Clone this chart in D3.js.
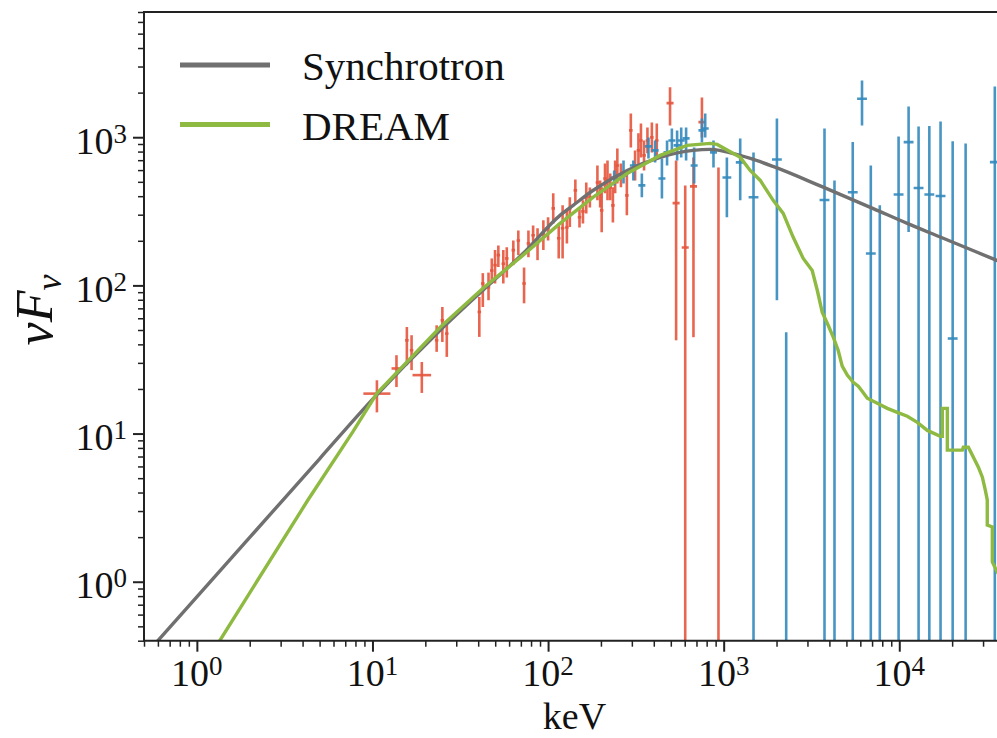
<!DOCTYPE html>
<html>
<head>
<meta charset="utf-8">
<script src="https://cdn.jsdelivr.net/npm/d3@7"></script>
<style>
  body { margin: 0; background: #fff; }
  svg { display: block; font-family: "Liberation Serif", "DejaVu Serif", serif; }
</style>
</head>
<body>
<svg id="chart" width="997" height="738"></svg>
<script>
// Model curves: [keV, nuFnu]
const synchrotron = [
  [0.5, 0.314], [1, 0.79], [2, 1.99], [5, 6.76], [10, 17.0], [24.3, 49.8], [42.6, 92.9],
  [72, 164], [117, 297], [139, 347], [180, 437], [282, 597], [435, 731], [670, 815],
  [838, 828], [1240, 754], [1420, 719], [1910, 635], [3690, 460], [7110, 330],
  [11100, 262], [17100, 212], [36200, 147], [40000, 140]
];

const dream = [
  [1.2, 0.32], [1.35, 0.40], [4.29, 3.56], [7.74, 10.3], [10.6, 18.7], [24.3, 52.2],
  [42.6, 95.7], [72.1, 160], [117, 262], [180, 393], [282, 570], [435, 754], [619, 881],
  [838, 908], [918, 894], [1242, 731], [1416, 597], [1616, 511], [1914, 375], [2183, 306],
  [2489, 211], [2838, 152], [3193, 126], [3412, 92.7], [3640, 65.9], [3936, 53.8],
  [4207, 44.7], [4487, 36.5], [4732, 28.5], [5057, 24.8], [5470, 22.2], [5840, 20.9],
  [6150, 19.3], [6575, 17.3], [7497, 16.0], [8547, 14.8], [9745, 13.9], [11110, 13.1],
  [12670, 11.9], [14450, 10.5], [17140, 9.6], [17580, 9.6], [17580, 14.8], [18780, 14.8],
  [18780, 7.73], [22860, 7.73], [23170, 8.09], [24730, 8.09], [25390, 7.61], [26430, 6.93],
  [28210, 5.93], [29720, 5.08], [30900, 4.15], [31700, 3.56], [31700, 2.41], [33880, 2.34],
  [33880, 1.36], [36150, 1.16], [39170, 1.03]
];

// Data points: [keV, nuFnu, lower, upper, half bin width in dex]
const naiData = [
  [10.6, 18.6, 13.9, 22.9, 0.077], [13.7, 27.5, 20.6, 33.8, 0.028], [15.7, 42.6, 28.9, 52.4, 0.01],
  [16.7, 36.5, 26.8, 46.1, 0.01], [19.1, 24.8, 18.8, 30.4, 0.053], [23.2, 42.6, 35.6, 53.8, 0.01],
  [25.0, 58.2, 41.5, 71.5, 0.01], [26.5, 47.3, 32.9, 55.5, 0.01], [40.6, 66.2, 44.9, 83.5, 0.01],
  [42.5, 103, 71.5, 121, 0.01], [45.8, 97, 79.4, 122, 0.01], [47.8, 126, 103, 152, 0.01],
  [49.9, 137, 103, 173, 0.01], [52.1, 160, 133, 186, 0.01], [55.6, 140, 103, 173, 0.01],
  [58.2, 152, 113, 181, 0.01], [63.4, 173, 137, 201, 0.01], [67.7, 201, 160, 235, 0.01],
  [73.0, 103, 75.7, 132, 0.01], [77.3, 192, 155, 235, 0.01], [82.2, 218, 181, 254, 0.01],
  [87.1, 192, 148, 243, 0.01], [94.0, 224, 173, 275, 0.01], [100, 243, 201, 288, 0.01],
  [107, 331, 262, 418, 0.01], [115, 208, 152, 262, 0.01], [121, 243, 152, 347, 0.01],
  [128, 246, 192, 321, 0.01], [133, 331, 248, 393, 0.01], [143, 438, 358, 519, 0.01],
  [151, 288, 246, 336, 0.01], [158, 316, 262, 375, 0.01], [165, 393, 306, 495, 0.01],
  [173, 393, 336, 458, 0.01], [191, 495, 375, 645, 0.01], [198, 418, 336, 511, 0.01],
  [202, 321, 228, 459, 0.01], [211, 527, 418, 665, 0.01], [218, 511, 375, 697, 0.01],
  [226, 459, 375, 570, 0.01], [234, 347, 266, 459, 0.01], [241, 544, 418, 697, 0.01],
  [248, 645, 488, 839, 0.01], [260, 553, 459, 665, 0.01], [281, 405, 297, 570, 0.01],
  [296, 1112, 853, 1446, 0.01], [313, 645, 511, 815, 0.01], [327, 815, 625, 1062, 0.01],
  [338, 951, 731, 1239, 0.01], [352, 754, 597, 951, 0.01], [368, 951, 778, 1164, 0.01],
  [390, 997, 789, 1259, 0.01], [416, 951, 731, 1239, 0.01], [495, 1699, 1202, 2178, 0.02],
  [536, 359, 42.6, 697, 0.02], [604, 180, 0.05, 473, 0.02], [673, 466, 44.7, 731, 0.02],
  [752, 1265, 997, 1854, 0.02], [934, 0.2, 0.05, 625, 0.02]
];

const bgoData = [
  [238, 535, 473, 597, 0.02], [269, 553, 488, 697, 0.02], [306, 645, 511, 697, 0.02],
  [342, 473, 393, 570, 0.02], [373, 867, 719, 997, 0.02], [407, 815, 676, 951, 0.02],
  [445, 527, 386, 719, 0.02], [476, 790, 645, 951, 0.02], [507, 951, 778, 1146, 0.02],
  [543, 881, 697, 1112, 0.02], [573, 951, 731, 1164, 0.02], [611, 982, 697, 1164, 0.02],
  [679, 645, 488, 853, 0.02], [752, 1112, 923, 1340, 0.02], [785, 1146, 997, 1446, 0.02],
  [875, 790, 625, 951, 0.02], [1043, 535, 288, 731, 0.025], [1242, 676, 375, 982, 0.025],
  [1479, 393, 0.05, 790, 0.028], [2010, 708, 79.4, 1340, 0.028], [2270, 0.2, 0.05, 48.3, 0.028],
  [3751, 377, 0.05, 1146, 0.028], [4276, 0.2, 0.05, 511, 0.028], [5433, 425, 0.05, 927, 0.028],
  [6135, 1820, 1202, 2415, 0.028], [6884, 164, 0.05, 645, 0.028], [7745, 0.2, 0.05, 347, 0.028],
  [9910, 411, 0.05, 1013, 0.028], [11300, 927, 229, 1614, 0.028], [12880, 454, 0.05, 1183, 0.028],
  [14830, 411, 0.05, 1189, 0.028], [17180, 401, 0.05, 1278, 0.028], [20140, 43.8, 0.05, 941, 0.028],
  [23870, 0.2, 0.05, 908, 0.028], [35000, 679, 0.05, 2202, 0.028]
];

const xDomain = [0.5, 40000];
const yDomain = [0.4, 7000];
const legendItems = [['Synchrotron', '#707070'], ['DREAM', '#8EBA42']];

const COLORS = { nai: '#E5553D', bgo: '#348ABD', syn: '#707070', dream: '#8EBA42' };
const plot = { left: 144, right: 1005, top: 12, bottom: 640.7 };

const svg = d3.select('#chart');
const x = d3.scaleLog().domain(xDomain).range([plot.left, plot.right]);
const y = d3.scaleLog().domain(yDomain).range([plot.bottom, plot.top]);

svg.append('defs').append('clipPath').attr('id', 'clip')
  .append('rect').attr('x', plot.left).attr('y', plot.top)
  .attr('width', plot.right - plot.left).attr('height', plot.bottom - plot.top);

const body = svg.append('g').attr('clip-path', 'url(#clip)');

// error bars
function drawErrors(data, color) {
  const g = body.append('g').attr('stroke', color).attr('stroke-width', 2.6).attr('stroke-opacity', 0.9);
  g.selectAll('line.v').data(data).enter().append('line').attr('class', 'v')
    .attr('x1', d => x(d[0])).attr('x2', d => x(d[0]))
    .attr('y1', d => y(d[2])).attr('y2', d => y(d[3]));
  g.selectAll('line.h').data(data).enter().append('line').attr('class', 'h')
    .attr('x1', d => x(d[0] / Math.pow(10, d[4]))).attr('x2', d => x(d[0] * Math.pow(10, d[4])))
    .attr('y1', d => y(d[1])).attr('y2', d => y(d[1]));
}
drawErrors(naiData, COLORS.nai);
drawErrors(bgoData, COLORS.bgo);

// model curves
const synLine = d3.line().x(d => x(d[0])).y(d => y(d[1])).curve(d3.curveMonotoneX);
const dreamLine = d3.line().x(d => x(d[0])).y(d => y(d[1]));
body.append('path').datum(synchrotron).attr('d', synLine)
  .attr('fill', 'none').attr('stroke', COLORS.syn).attr('stroke-width', 3.4);
body.append('path').datum(dream).attr('d', dreamLine)
  .attr('fill', 'none').attr('stroke', COLORS.dream).attr('stroke-width', 3.4).attr('stroke-linejoin', 'miter');

// ticks
const isMajor = v => Math.abs(Math.log10(v) - Math.round(Math.log10(v))) < 1e-9;
const xTicks = x.ticks(), yTicks = y.ticks();
const xMajor = xTicks.filter(isMajor), yMajor = yTicks.filter(isMajor);

function tickAxis(axis, vals, size, width, tf) {
  const g = svg.append('g').attr('transform', tf)
    .call(axis.tickValues(vals).tickSize(size).tickFormat(''));
  g.select('.domain').remove();
  g.selectAll('line').attr('stroke', '#222').attr('stroke-width', width);
}
tickAxis(d3.axisBottom(x), xMajor, 11, 2, `translate(0,${plot.bottom})`);
tickAxis(d3.axisBottom(x), xTicks.filter(v => !isMajor(v)), 6, 1.5, `translate(0,${plot.bottom})`);
tickAxis(d3.axisLeft(y), yMajor, 11, 2, `translate(${plot.left},0)`);
tickAxis(d3.axisLeft(y), yTicks.filter(v => !isMajor(v)), 6, 1.5, `translate(${plot.left},0)`);

// spines
svg.append('path')
  .attr('d', `M${plot.right + 10},${plot.top}H${plot.left}V${plot.bottom}H${plot.right + 10}`)
  .attr('fill', 'none').attr('stroke', '#222').attr('stroke-width', 2);

// tick labels 10^n
function powLabel(px, py, v, anchor) {
  const t = svg.append('text').attr('x', px).attr('y', py).attr('text-anchor', anchor).attr('fill', '#111');
  t.append('tspan').style('font-size', '38px').text('10');
  t.append('tspan').attr('dy', -11).style('font-size', '27px').text(Math.round(Math.log10(v)));
}
xMajor.forEach(v => powLabel(x(v), 686, v, 'middle'));
yMajor.forEach(v => powLabel(127, y(v) + 16.5, v, 'end'));

// axis labels
svg.append('text').attr('x', (plot.left + plot.right) / 2).attr('y', 729)
  .attr('text-anchor', 'middle').style('font-size', '38px').attr('fill', '#111').text('keV');

const yl = svg.append('text').attr('transform', 'translate(52,310) rotate(-90)')
  .attr('text-anchor', 'middle').style('font-size', '52px').style('font-style', 'italic').attr('fill', '#111');
yl.append('tspan').text('ν');
yl.append('tspan').text('F');
yl.append('tspan').attr('dy', 9).style('font-size', '36px').text('ν');

// legend
const leg = svg.append('g');
legendItems.forEach(([label, color], i) => {
  const yy = 65 + i * 59.5;
  leg.append('line').attr('x1', 180).attr('x2', 270).attr('y1', yy).attr('y2', yy)
    .attr('stroke', color).attr('stroke-width', 5);
  leg.append('text').attr('x', 302).attr('y', yy + 15).style('font-size', '41px').attr('fill', '#111').text(label);
});
</script>
</body>
</html>
